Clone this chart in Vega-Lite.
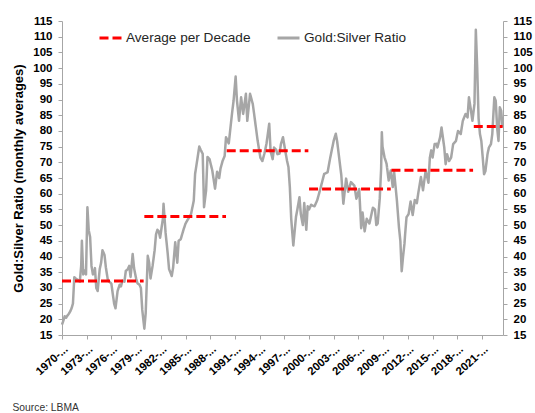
{
  "$schema": "https://vega.github.io/schema/vega-lite/v6.json",
  "width": 441,
  "height": 314,
  "autosize": {"type": "none"},
  "padding": {"left": 62, "top": 21, "right": 32, "bottom": 78},
  "background": "white",
  "config": {
    "view": {"stroke": null},
    "axis": {"grid": false, "domainColor": "#a6a6a6", "tickColor": "#a6a6a6", "tickSize": 4, "labelFont": "Liberation Sans", "labelFontWeight": "bold", "labelFontSize": 11.5, "labelColor": "#000000"}
  },
  "datasets": {
    "ratio": [
      {"date": "1970-01-01", "value": 18.3}, {"date": "1970-03-01", "value": 19.5}, {"date": "1970-05-01", "value": 21.0}, {"date": "1970-07-01", "value": 20.5}, {"date": "1970-09-01", "value": 21.2}, {"date": "1970-11-01", "value": 21.8},
      {"date": "1971-01-01", "value": 22.5}, {"date": "1971-03-01", "value": 23.5}, {"date": "1971-05-01", "value": 25.0}, {"date": "1971-07-01", "value": 33.4}, {"date": "1971-09-01", "value": 33.0}, {"date": "1971-12-01", "value": 32.5},
      {"date": "1972-03-01", "value": 32.0}, {"date": "1972-05-01", "value": 37.0}, {"date": "1972-06-01", "value": 45.0}, {"date": "1972-08-01", "value": 34.3}, {"date": "1972-10-01", "value": 35.5}, {"date": "1972-12-01", "value": 34.3},
      {"date": "1973-02-01", "value": 55.7}, {"date": "1973-04-01", "value": 48.3}, {"date": "1973-06-01", "value": 46.2}, {"date": "1973-08-01", "value": 37.0}, {"date": "1973-10-01", "value": 34.3}, {"date": "1973-12-01", "value": 35.0},
      {"date": "1974-01-01", "value": 36.3}, {"date": "1974-03-01", "value": 30.0}, {"date": "1974-05-01", "value": 29.0}, {"date": "1974-08-01", "value": 36.0}, {"date": "1974-10-01", "value": 38.0}, {"date": "1974-12-01", "value": 42.0},
      {"date": "1975-03-01", "value": 40.5}, {"date": "1975-05-01", "value": 36.5}, {"date": "1975-08-01", "value": 32.3}, {"date": "1975-10-01", "value": 32.0},
      {"date": "1976-01-01", "value": 31.3}, {"date": "1976-03-01", "value": 28.1}, {"date": "1976-05-01", "value": 25.0}, {"date": "1976-07-01", "value": 23.5}, {"date": "1976-10-01", "value": 29.0},
      {"date": "1977-01-01", "value": 31.0}, {"date": "1977-03-01", "value": 30.5}, {"date": "1977-05-01", "value": 32.3}, {"date": "1977-08-01", "value": 32.0}, {"date": "1977-10-01", "value": 35.4},
      {"date": "1978-01-01", "value": 36.0}, {"date": "1978-03-01", "value": 37.0}, {"date": "1978-05-01", "value": 33.5}, {"date": "1978-08-01", "value": 40.8}, {"date": "1978-10-01", "value": 36.3},
      {"date": "1979-01-01", "value": 33.0}, {"date": "1979-03-01", "value": 31.5}, {"date": "1979-06-01", "value": 31.0}, {"date": "1979-08-01", "value": 30.0}, {"date": "1979-10-01", "value": 23.0},
      {"date": "1980-01-01", "value": 17.0}, {"date": "1980-03-01", "value": 22.0}, {"date": "1980-06-01", "value": 40.2}, {"date": "1980-08-01", "value": 38.0}, {"date": "1980-10-01", "value": 33.0},
      {"date": "1981-01-01", "value": 37.0}, {"date": "1981-04-01", "value": 42.0}, {"date": "1981-06-01", "value": 47.0}, {"date": "1981-08-01", "value": 48.5}, {"date": "1981-10-01", "value": 48.0}, {"date": "1981-12-01", "value": 46.0},
      {"date": "1982-04-01", "value": 52.0}, {"date": "1982-05-01", "value": 56.8}, {"date": "1982-08-01", "value": 47.5}, {"date": "1982-11-01", "value": 41.0},
      {"date": "1983-01-01", "value": 36.0}, {"date": "1983-05-01", "value": 33.8}, {"date": "1983-07-01", "value": 36.5}, {"date": "1983-10-01", "value": 44.5},
      {"date": "1984-01-01", "value": 38.0}, {"date": "1984-03-01", "value": 45.0}, {"date": "1984-06-01", "value": 45.5}, {"date": "1984-10-01", "value": 48.5},
      {"date": "1985-01-01", "value": 50.5}, {"date": "1985-05-01", "value": 52.0}, {"date": "1985-09-01", "value": 53.5},
      {"date": "1986-01-01", "value": 57.8}, {"date": "1986-03-01", "value": 66.3}, {"date": "1986-06-01", "value": 70.6}, {"date": "1986-09-01", "value": 75.0}, {"date": "1986-11-01", "value": 74.0},
      {"date": "1987-02-01", "value": 72.7}, {"date": "1987-04-01", "value": 55.7}, {"date": "1987-07-01", "value": 61.0}, {"date": "1987-09-01", "value": 71.7}, {"date": "1987-12-01", "value": 71.0},
      {"date": "1988-04-01", "value": 67.4}, {"date": "1988-08-01", "value": 61.6}, {"date": "1988-11-01", "value": 67.0},
      {"date": "1989-02-01", "value": 65.0}, {"date": "1989-04-01", "value": 68.0}, {"date": "1989-07-01", "value": 70.4}, {"date": "1989-10-01", "value": 72.0}, {"date": "1989-12-01", "value": 78.0},
      {"date": "1990-04-01", "value": 76.0}, {"date": "1990-07-01", "value": 82.0}, {"date": "1990-09-01", "value": 86.0}, {"date": "1990-11-01", "value": 89.6},
      {"date": "1991-02-01", "value": 97.3}, {"date": "1991-04-01", "value": 89.6}, {"date": "1991-07-01", "value": 83.2}, {"date": "1991-10-01", "value": 90.7},
      {"date": "1992-01-01", "value": 85.4}, {"date": "1992-05-01", "value": 91.8}, {"date": "1992-07-01", "value": 83.2}, {"date": "1992-11-01", "value": 91.8},
      {"date": "1993-03-01", "value": 88.6}, {"date": "1993-05-01", "value": 85.4}, {"date": "1993-07-01", "value": 82.0}, {"date": "1993-10-01", "value": 77.0},
      {"date": "1994-02-01", "value": 71.5}, {"date": "1994-05-01", "value": 70.4}, {"date": "1994-08-01", "value": 72.8}, {"date": "1994-11-01", "value": 76.0},
      {"date": "1995-03-01", "value": 82.3}, {"date": "1995-05-01", "value": 73.5}, {"date": "1995-08-01", "value": 71.0}, {"date": "1995-10-01", "value": 74.7},
      {"date": "1996-01-01", "value": 74.0}, {"date": "1996-03-01", "value": 72.6}, {"date": "1996-06-01", "value": 72.8}, {"date": "1996-08-01", "value": 75.8}, {"date": "1996-11-01", "value": 78.0},
      {"date": "1997-02-01", "value": 74.0}, {"date": "1997-05-01", "value": 70.4}, {"date": "1997-07-01", "value": 68.5}, {"date": "1997-09-01", "value": 62.0}, {"date": "1997-11-01", "value": 52.0},
      {"date": "1998-02-01", "value": 43.5}, {"date": "1998-06-01", "value": 52.7}, {"date": "1998-08-01", "value": 55.0}, {"date": "1998-11-01", "value": 58.9},
      {"date": "1999-01-01", "value": 53.5}, {"date": "1999-04-01", "value": 50.0}, {"date": "1999-06-01", "value": 57.0}, {"date": "1999-09-01", "value": 48.5}, {"date": "1999-11-01", "value": 56.0},
      {"date": "2000-01-01", "value": 55.0}, {"date": "2000-04-01", "value": 56.5}, {"date": "2000-06-01", "value": 56.2}, {"date": "2000-09-01", "value": 56.0},
      {"date": "2001-01-01", "value": 58.0}, {"date": "2001-06-01", "value": 62.0}, {"date": "2001-11-01", "value": 66.3},
      {"date": "2002-04-01", "value": 66.8}, {"date": "2002-08-01", "value": 71.6},
      {"date": "2003-01-01", "value": 77.0}, {"date": "2003-04-01", "value": 79.1}, {"date": "2003-06-01", "value": 76.6}, {"date": "2003-09-01", "value": 71.2}, {"date": "2003-12-01", "value": 65.9},
      {"date": "2004-03-01", "value": 56.8}, {"date": "2004-07-01", "value": 64.8}, {"date": "2004-10-01", "value": 60.6},
      {"date": "2005-02-01", "value": 63.7}, {"date": "2005-07-01", "value": 62.6}, {"date": "2005-10-01", "value": 58.4},
      {"date": "2006-02-01", "value": 61.5}, {"date": "2006-05-01", "value": 49.0}, {"date": "2006-07-01", "value": 54.0}, {"date": "2006-10-01", "value": 48.0},
      {"date": "2007-01-01", "value": 52.0}, {"date": "2007-05-01", "value": 50.5}, {"date": "2007-10-01", "value": 55.5},
      {"date": "2008-01-01", "value": 55.0}, {"date": "2008-03-01", "value": 50.0}, {"date": "2008-05-01", "value": 50.5}, {"date": "2008-08-01", "value": 58.5}, {"date": "2008-10-01", "value": 68.0}, {"date": "2008-11-01", "value": 79.6}, {"date": "2008-12-01", "value": 75.0},
      {"date": "2009-03-01", "value": 71.6}, {"date": "2009-06-01", "value": 69.5}, {"date": "2009-09-01", "value": 64.2}, {"date": "2009-12-01", "value": 67.4},
      {"date": "2010-03-01", "value": 62.1}, {"date": "2010-05-01", "value": 66.9}, {"date": "2010-09-01", "value": 57.8}, {"date": "2010-12-01", "value": 49.3},
      {"date": "2011-02-01", "value": 45.0}, {"date": "2011-04-01", "value": 35.3}, {"date": "2011-06-01", "value": 40.0}, {"date": "2011-08-01", "value": 44.0}, {"date": "2011-09-01", "value": 47.1}, {"date": "2011-11-01", "value": 52.5},
      {"date": "2012-02-01", "value": 53.5}, {"date": "2012-05-01", "value": 57.5}, {"date": "2012-08-01", "value": 53.2}, {"date": "2012-11-01", "value": 58.0},
      {"date": "2013-02-01", "value": 57.0}, {"date": "2013-04-01", "value": 60.0}, {"date": "2013-08-01", "value": 65.3}, {"date": "2013-11-01", "value": 61.1},
      {"date": "2014-03-01", "value": 67.4}, {"date": "2014-07-01", "value": 63.5}, {"date": "2014-09-01", "value": 71.5}, {"date": "2014-11-01", "value": 73.8},
      {"date": "2015-01-01", "value": 71.5}, {"date": "2015-04-01", "value": 75.8}, {"date": "2015-07-01", "value": 75.9}, {"date": "2015-08-01", "value": 74.7}, {"date": "2015-12-01", "value": 78.0},
      {"date": "2016-02-01", "value": 81.1}, {"date": "2016-06-01", "value": 74.7}, {"date": "2016-08-01", "value": 69.4}, {"date": "2016-10-01", "value": 72.6},
      {"date": "2017-01-01", "value": 70.4}, {"date": "2017-04-01", "value": 71.5}, {"date": "2017-07-01", "value": 75.8}, {"date": "2017-11-01", "value": 76.8},
      {"date": "2018-02-01", "value": 80.0}, {"date": "2018-06-01", "value": 79.0}, {"date": "2018-09-01", "value": 83.2},
      {"date": "2019-01-01", "value": 85.4}, {"date": "2019-04-01", "value": 84.3}, {"date": "2019-06-01", "value": 90.7}, {"date": "2019-09-01", "value": 86.4}, {"date": "2019-11-01", "value": 83.2},
      {"date": "2020-02-01", "value": 88.6}, {"date": "2020-04-01", "value": 112.2}, {"date": "2020-06-01", "value": 100.0}, {"date": "2020-08-01", "value": 84.0}, {"date": "2020-10-01", "value": 79.0}, {"date": "2020-12-01", "value": 76.8},
      {"date": "2021-02-01", "value": 71.5}, {"date": "2021-04-01", "value": 66.2}, {"date": "2021-06-01", "value": 67.2}, {"date": "2021-09-01", "value": 72.6}, {"date": "2021-11-01", "value": 74.7},
      {"date": "2022-02-01", "value": 75.8}, {"date": "2022-04-01", "value": 79.0}, {"date": "2022-07-01", "value": 90.7}, {"date": "2022-09-01", "value": 89.6}, {"date": "2022-11-01", "value": 81.1},
      {"date": "2023-01-01", "value": 76.8}, {"date": "2023-03-01", "value": 87.5}, {"date": "2023-05-01", "value": 86.4}, {"date": "2023-07-01", "value": 81.1}
    ],
    "decades": [
      {"start": "1970-01-01", "end": "1979-12-01", "avg": 32.2},
      {"start": "1980-01-01", "end": "1989-12-01", "avg": 52.7},
      {"start": "1990-01-01", "end": "1999-12-01", "avg": 73.7},
      {"start": "2000-01-01", "end": "2009-12-01", "avg": 61.5},
      {"start": "2010-01-01", "end": "2019-12-01", "avg": 67.5},
      {"start": "2020-01-01", "end": "2023-07-01", "avg": 81.4}
    ]
  },
  "layer": [
    {
      "data": {"name": "ratio"},
      "mark": {"type": "line", "strokeWidth": 2.5, "strokeJoin": "round"},
      "encoding": {
        "x": {
          "field": "date", "type": "temporal",
          "scale": {"domain": ["1970-01-01", "2023-07-20"]},
          "axis": {
            "values": ["1970-01-01", "1973-01-01", "1976-01-01", "1979-01-01", "1982-01-01", "1985-01-01", "1988-01-01", "1991-01-01", "1994-01-01", "1997-01-01", "2000-01-01", "2003-01-01", "2006-01-01", "2009-01-01", "2012-01-01", "2015-01-01", "2018-01-01", "2021-01-01"],
            "labelExpr": "timeFormat(datum.value, '%Y') + '-...'",
            "labelAngle": -42, "labelFontSize": 11.3, "labelPadding": 4, "labelAlign": "right", "labelBaseline": "top",
            "labelOverlap": false, "labelBound": false, "labelFlush": false, "labelSeparation": 0,
            "title": "Source: LBMA", "titleX": -50, "titleY": 75, "titleAlign": "left", "titleAnchor": "start", "titleBaseline": "alphabetic",
            "titleFont": "Liberation Sans", "titleFontSize": 10.3, "titleFontWeight": "normal", "titleColor": "#333333"
          }
        },
        "y": {
          "field": "value", "type": "quantitative",
          "scale": {"domain": [15, 115], "nice": false, "zero": false},
          "axis": {
            "orient": "left", "values": [15, 20, 25, 30, 35, 40, 45, 50, 55, 60, 65, 70, 75, 80, 85, 90, 95, 100, 105, 110, 115],
            "labelPadding": 6, "title": "Gold:Silver Ratio (monthly averages)", "titleFont": "Liberation Sans", "titleFontWeight": "bold", "titleFontSize": 13, "titleColor": "#000000", "titlePadding": 7
          }
        },
        "color": {"datum": "Gold:Silver Ratio", "type": "nominal",
          "scale": {"domain": ["Average per Decade", "Gold:Silver Ratio"], "range": ["#ff0000", "#a6a6a6"]},
          "legend": {"title": null, "orient": "none", "legendX": 36, "legendY": 4, "direction": "horizontal", "symbolType": "stroke", "symbolSize": 484, "symbolStrokeWidth": 3, "labelFont": "Liberation Sans", "labelFontSize": 13.6, "labelColor": "#262626", "labelOffset": 3, "columnPadding": 20}
        },
        "strokeDash": {"datum": "Gold:Silver Ratio", "type": "nominal",
          "scale": {"domain": ["Average per Decade", "Gold:Silver Ratio"], "range": [[9, 4], [1, 0]]},
          "legend": {"title": null, "orient": "none", "legendX": 36, "legendY": 4, "direction": "horizontal", "symbolType": "stroke", "symbolSize": 484, "symbolStrokeWidth": 3, "labelFont": "Liberation Sans", "labelFontSize": 13.6, "labelColor": "#262626", "labelOffset": 3, "columnPadding": 20}
        }
      }
    },
    {
      "data": {"name": "decades"},
      "mark": {"type": "rule", "strokeWidth": 3},
      "encoding": {
        "x": {
          "field": "start", "type": "temporal",
          "axis": {
            "values": ["1970-01-01", "1973-01-01", "1976-01-01", "1979-01-01", "1982-01-01", "1985-01-01", "1988-01-01", "1991-01-01", "1994-01-01", "1997-01-01", "2000-01-01", "2003-01-01", "2006-01-01", "2009-01-01", "2012-01-01", "2015-01-01", "2018-01-01", "2021-01-01"],
            "labelExpr": "timeFormat(datum.value, '%Y') + '-...'",
            "labelAngle": -42, "labelFontSize": 11.3, "labelPadding": 4, "labelAlign": "right", "labelBaseline": "top",
            "labelOverlap": false, "labelBound": false, "labelFlush": false, "labelSeparation": 0,
            "title": "Source: LBMA", "titleX": -50, "titleY": 75, "titleAlign": "left", "titleAnchor": "start", "titleBaseline": "alphabetic",
            "titleFont": "Liberation Sans", "titleFontSize": 10.3, "titleFontWeight": "normal", "titleColor": "#333333"
          }
        },
        "x2": {"field": "end"},
        "y": {
          "field": "avg", "type": "quantitative",
          "axis": {"orient": "right", "values": [15, 20, 25, 30, 35, 40, 45, 50, 55, 60, 65, 70, 75, 80, 85, 90, 95, 100, 105, 110, 115], "labelPadding": 6, "title": null}
        },
        "color": {"datum": "Average per Decade", "type": "nominal"},
        "strokeDash": {"datum": "Average per Decade", "type": "nominal"}
      }
    }
  ],
  "resolve": {"axis": {"y": "independent"}}
}
